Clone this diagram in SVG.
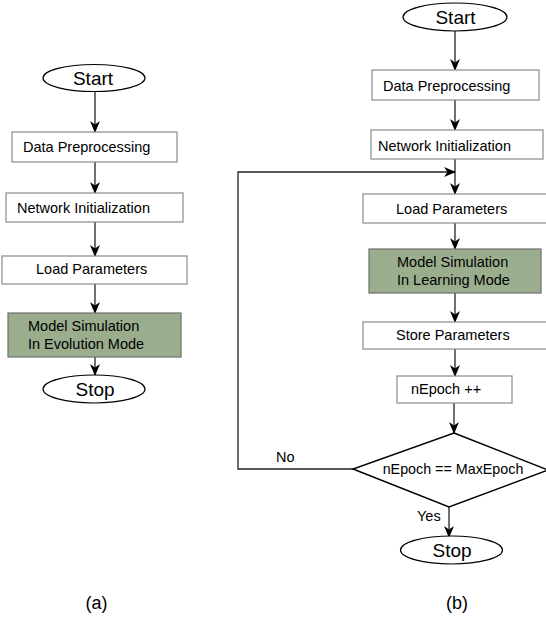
<svg xmlns="http://www.w3.org/2000/svg" width="546" height="618" viewBox="0 0 546 618">
<style>
text{font-family:"Liberation Sans",Arial,sans-serif;fill:#000}
.box{fill:#fff;stroke:#8a8a8a;stroke-width:1.2}
.green{fill:#9aae8e;stroke:#6f6f6f;stroke-width:1.2}
.term{fill:#fff;stroke:#000;stroke-width:1.2}
.t{font-size:14.5px}
.big{font-size:19px}
.cap{font-size:18px}
.con{fill:none;stroke:#222;stroke-width:1.3}
.arr{marker-end:url(#ah)}
</style>
<defs>
<marker id="ah" markerUnits="userSpaceOnUse" markerWidth="12" markerHeight="10" viewBox="0 0 12 10" refX="11" refY="5" orient="auto">
<path d="M0,0 L12,5 L0,10 L3.5,5 z" fill="#000"/>
</marker>
</defs>
<rect width="546" height="618" fill="#fff"/>

<g id="connectors">
<line class="con arr" x1="95" y1="92" x2="95" y2="132"/>
<line class="con arr" x1="95" y1="162" x2="95" y2="193"/>
<line class="con arr" x1="95" y1="222" x2="95" y2="256"/>
<line class="con arr" x1="95" y1="284" x2="95" y2="313"/>
<line class="con arr" x1="95" y1="357" x2="95" y2="375"/>

<line class="con arr" x1="455" y1="31" x2="455" y2="70"/>
<line class="con arr" x1="455" y1="100" x2="455" y2="130"/>
<line class="con arr" x1="455" y1="159" x2="455" y2="194"/>
<polyline class="con arr" points="353,469 238,469 238,172 455,172"/>
<line class="con arr" x1="455" y1="223" x2="455" y2="249"/>
<line class="con arr" x1="455" y1="293" x2="455" y2="322"/>
<line class="con arr" x1="455" y1="349" x2="455" y2="376"/>
<line class="con arr" x1="454" y1="403" x2="454" y2="433"/>
<line class="con arr" x1="449" y1="507" x2="449" y2="537"/>
<text x="276" y="462" class="t">No</text>
<text x="417" y="521" class="t">Yes</text>
</g>

<g id="a-start"><ellipse class="term" cx="94" cy="78" rx="51" ry="13.5"/><text x="93" y="85" class="big" text-anchor="middle">Start</text></g>
<g id="a-data"><rect class="box" x="12" y="132" width="165" height="30"/><text x="23" y="152" class="t">Data Preprocessing</text></g>
<g id="a-net"><rect class="box" x="6" y="193" width="177" height="29"/><text x="17" y="213" class="t">Network Initialization</text></g>
<g id="a-load"><rect class="box" x="2" y="256" width="185" height="28"/><text x="36" y="274" class="t">Load Parameters</text></g>
<g id="a-model"><rect class="green" x="8" y="313" width="173" height="44"/><text x="28" y="331" class="t">Model Simulation</text><text x="28" y="349" class="t">In Evolution Mode</text></g>
<g id="a-stop"><ellipse class="term" cx="94" cy="389" rx="51" ry="14"/><text x="95" y="396" class="big" text-anchor="middle">Stop</text></g>

<g id="b-start"><ellipse class="term" cx="455" cy="17" rx="52" ry="14"/><text x="455.5" y="24" class="big" text-anchor="middle">Start</text></g>
<g id="b-data"><rect class="box" x="372" y="70" width="167" height="30"/><text x="383" y="91" class="t">Data Preprocessing</text></g>
<g id="b-net"><rect class="box" x="371" y="130" width="172" height="29"/><text x="378" y="151" class="t">Network Initialization</text></g>
<g id="b-load"><rect class="box" x="363" y="194" width="186" height="29"/><text x="396" y="214" class="t">Load Parameters</text></g>
<g id="b-model"><rect class="green" x="369" y="249" width="172" height="44"/><text x="397" y="267" class="t">Model Simulation</text><text x="397" y="285" class="t">In Learning Mode</text></g>
<g id="b-store"><rect class="box" x="363" y="322" width="186" height="27"/><text x="396" y="340" class="t">Store Parameters</text></g>
<g id="b-epoch"><rect class="box" x="397" y="376" width="115" height="27"/><text x="411" y="394" class="t">nEpoch ++</text></g>
<g id="b-decision"><polygon points="454,433 548,470 449,507 353,469" fill="#fff" stroke="#000" stroke-width="1.5"/><text x="453" y="474" font-size="14.3" text-anchor="middle">nEpoch == MaxEpoch</text></g>
<g id="b-stop"><ellipse class="term" cx="451.5" cy="550" rx="51" ry="14"/><text x="452" y="557" class="big" text-anchor="middle">Stop</text></g>

<text x="96.5" y="609" class="cap" text-anchor="middle">(a)</text>
<text x="457" y="609" class="cap" text-anchor="middle">(b)</text>
</svg>
